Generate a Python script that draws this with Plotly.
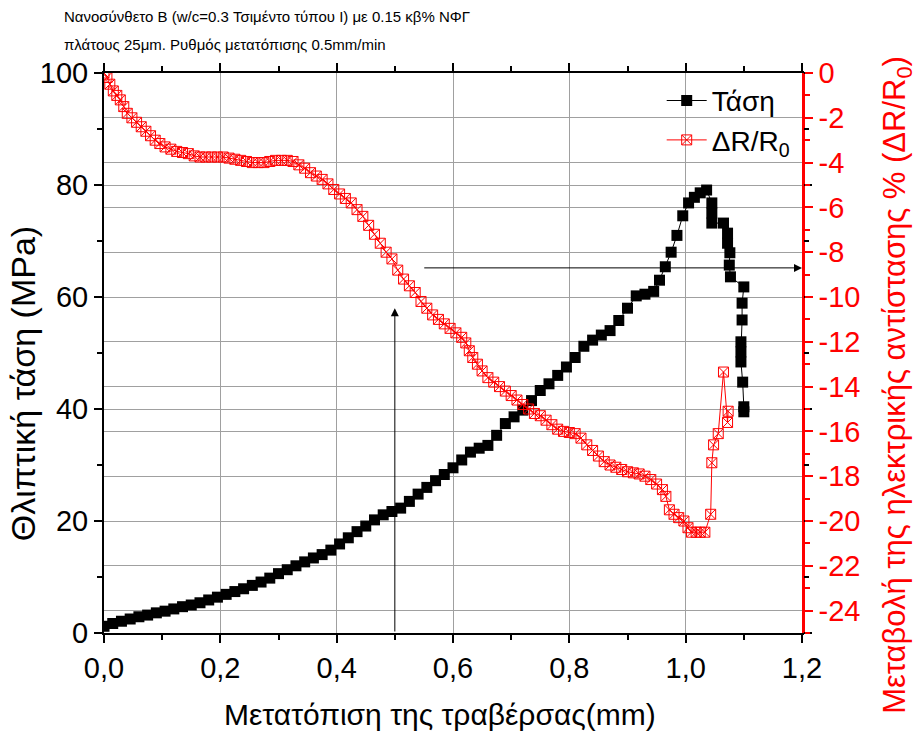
import plotly.graph_objects as go

# ---- data: stress (MPa) vs crosshead displacement (mm)
stress_x = [0.000, 0.015, 0.030, 0.045, 0.060, 0.075, 0.090, 0.105, 0.120, 0.135,
            0.150, 0.165, 0.180, 0.195, 0.210, 0.225, 0.240, 0.255, 0.270, 0.285,
            0.300, 0.315, 0.330, 0.345, 0.360, 0.375, 0.390, 0.405, 0.420, 0.435,
            0.450, 0.465, 0.480, 0.495, 0.510, 0.525, 0.540, 0.555, 0.570, 0.585,
            0.600, 0.615, 0.630, 0.645, 0.660, 0.675, 0.690, 0.705, 0.720, 0.735,
            0.750, 0.765, 0.780, 0.795, 0.810, 0.825, 0.840, 0.855, 0.870, 0.885,
            0.900, 0.915, 0.930, 0.945, 0.955, 0.965, 0.975, 0.985, 0.995, 1.005,
            1.015, 1.025, 1.036, 1.045, 1.045, 1.045, 1.065, 1.072, 1.072, 1.076,
            1.075, 1.077, 1.100, 1.097, 1.097, 1.095, 1.095, 1.095, 1.098, 1.100, 1.100]
stress_y = [1.2, 1.7, 2.1, 2.5, 2.9, 3.2, 3.6, 3.9, 4.3, 4.7,
            5.0, 5.4, 5.9, 6.4, 6.9, 7.4, 7.9, 8.5, 9.1, 9.8,
            10.6, 11.3, 12.0, 12.7, 13.4, 14.0, 14.8, 15.9, 17.0, 18.1,
            19.1, 20.2, 21.1, 21.7, 22.3, 23.5, 24.8, 26.0, 27.2, 28.3,
            29.5, 30.9, 32.3, 33.0, 33.5, 35.3, 37.4, 38.6, 39.8, 41.5,
            43.3, 44.5, 46.0, 47.5, 49.2, 51.2, 52.3, 53.2, 54.0, 55.8,
            58.0, 60.2, 60.5, 61.0, 63.0, 65.4, 68.0, 71.0, 74.5, 76.8,
            77.8, 78.6, 79.1, 76.8, 75.0, 73.2, 73.2, 71.4, 69.6, 67.9,
            65.7, 63.6, 61.8, 58.9, 55.9, 52.0, 50.2, 48.4, 44.8, 40.4, 39.5]

# ---- data: resistance change ΔR/R0 (%) vs displacement (mm)
dr_x = [0.000, 0.005, 0.010, 0.016, 0.022, 0.028, 0.034, 0.040, 0.048, 0.056,
        0.064, 0.072, 0.080, 0.088, 0.096, 0.105, 0.115, 0.125, 0.135, 0.145,
        0.155, 0.165, 0.175, 0.185, 0.195, 0.205, 0.215, 0.225, 0.235, 0.245,
        0.255, 0.265, 0.275, 0.285, 0.295, 0.305, 0.315, 0.325, 0.335, 0.345,
        0.355, 0.365, 0.375, 0.385, 0.395, 0.405, 0.415, 0.425, 0.435, 0.445,
        0.455, 0.465, 0.475, 0.485, 0.495, 0.505, 0.515, 0.525, 0.535, 0.545,
        0.555, 0.565, 0.575, 0.585, 0.595, 0.605, 0.615, 0.622, 0.628, 0.634,
        0.642, 0.650, 0.660, 0.670, 0.680, 0.690, 0.700, 0.710, 0.720, 0.730,
        0.740, 0.750, 0.760, 0.770, 0.780, 0.790, 0.800, 0.810, 0.820, 0.830,
        0.840, 0.850, 0.860, 0.870, 0.880, 0.890, 0.900, 0.910, 0.920, 0.930,
        0.940, 0.950, 0.960, 0.966, 0.972, 0.980, 0.988, 0.997, 1.004, 1.010,
        1.018, 1.025, 1.033, 1.043, 1.045, 1.048, 1.056, 1.065, 1.072, 1.073]
dr_y = [0.0, -0.2, -0.5, -0.8, -1.0, -1.2, -1.5, -1.8, -2.0, -2.2,
        -2.4, -2.6, -2.8, -3.0, -3.15, -3.3, -3.4, -3.5, -3.55, -3.6,
        -3.7, -3.75, -3.75, -3.75, -3.75, -3.75, -3.8, -3.85, -3.9, -3.95,
        -4.0, -4.0, -4.0, -3.95, -3.9, -3.9, -3.9, -3.95, -4.1, -4.25,
        -4.45, -4.6, -4.75, -4.95, -5.2, -5.4, -5.6, -5.8, -6.1, -6.4,
        -6.8, -7.2, -7.6, -8.0, -8.3, -8.8, -9.2, -9.5, -9.8, -10.2,
        -10.5, -10.8, -11.0, -11.2, -11.4, -11.6, -11.8, -12.05, -12.4, -12.7,
        -13.0, -13.3, -13.6, -13.8, -14.0, -14.2, -14.4, -14.6, -14.8, -15.0,
        -15.2, -15.3, -15.5, -15.7, -15.9, -16.0, -16.05, -16.1, -16.3, -16.6,
        -16.85, -17.1, -17.35, -17.5, -17.6, -17.7, -17.8, -17.85, -17.9, -18.0,
        -18.15, -18.35, -18.6, -18.9, -19.5, -19.7, -19.85, -20.0, -20.3, -20.5,
        -20.5, -20.5, -20.5, -19.7, -17.4, -16.6, -16.1, -13.35, -15.6, -15.1]

x_ticks = [0.0, 0.2, 0.4, 0.6, 0.8, 1.0, 1.2]
x_ticktext = ["0,0", "0,2", "0,4", "0,6", "0,8", "1,0", "1,2"]
y_ticks = [0, 20, 40, 60, 80, 100]
y2_ticks = [0, -2, -4, -6, -8, -10, -12, -14, -16, -18, -20, -22, -24]
y2_ticktext = ["0", "-2", "-4", "-6", "-8", "-10", "-12", "-14", "-16", "-18", "-20", "-22", "-24"]

title_lines = ["Νανοσύνθετο B (w/c=0.3 Τσιμέντο τύπου I) με 0.15 κβ% ΝΦΓ",
               "πλάτους 25μm. Ρυθμός μετατόπισης 0.5mm/min"]
x_title = "Μετατόπιση της τραβέρσας(mm)"
y_title = "Θλιπτική τάση (MPa)"
y2_title = "Μεταβολή της ηλεκτρικής αντίστασης % (ΔR/R<sub>0</sub>)"
names = ["Τάση", "ΔR/R<sub>0</sub>"]

FONT = "Liberation Sans, Arial, sans-serif"
TF = 29
AF = 30
GRID = "#a0a0a0"

fig = go.Figure()
fig.add_trace(go.Scatter(
    x=stress_x, y=stress_y, name=names[0], mode="lines+markers",
    line=dict(color="black", width=1),
    marker=dict(symbol="square", size=11, color="black"),
    yaxis="y"))
fig.add_trace(go.Scatter(
    x=dr_x, y=dr_y, name=names[1], mode="lines+markers",
    line=dict(color="red", width=1),
    marker=dict(symbol="square-x-open", size=10, color="red", line=dict(width=1, color="red")),
    yaxis="y2"))

# arrows
fig.add_annotation(x=0.5, y=58, ax=0.5, ay=0, xref="x", yref="y", axref="x", ayref="y",
                   text="", showarrow=True, arrowhead=2, arrowsize=1.6, arrowwidth=1,
                   arrowcolor="black")
fig.add_annotation(x=1.2, y=65.2, ax=0.548, ay=65.2, xref="x", yref="y", axref="x", ayref="y",
                   text="", showarrow=True, arrowhead=2, arrowsize=1.6, arrowwidth=1,
                   arrowcolor="black")

# title lines
for i, t in enumerate(title_lines):
    fig.add_annotation(text=t, xref="paper", yref="paper", x=-0.06, y=1.1 - i * 0.05,
                       xanchor="left", yanchor="middle", showarrow=False,
                       font=dict(family=FONT, size=15, color="black"))

# axis titles
fig.add_annotation(text=x_title, xref="paper", yref="paper", x=0.481, y=-0.146,
                   xanchor="center", yanchor="middle", showarrow=False,
                   font=dict(family=FONT, size=AF, color="black"))
fig.add_annotation(text=y_title, xref="paper", yref="paper", x=-0.117, y=0.445,
                   xanchor="center", yanchor="middle", showarrow=False, textangle=-90,
                   font=dict(family=FONT, size=34, color="black"))
fig.add_annotation(text=y2_title, xref="paper", yref="paper", x=1.136, y=0.443,
                   xanchor="center", yanchor="middle", showarrow=False, textangle=-90,
                   font=dict(family=FONT, size=31, color="red"))

fig.update_layout(
    width=917, height=735, autosize=False,
    margin=dict(l=104, r=115, t=73, b=102),
    paper_bgcolor="white", plot_bgcolor="white",
    font=dict(family=FONT, size=TF, color="black"),
    showlegend=True,
    legend=dict(x=0.799, y=0.995, xanchor="left", yanchor="top", bgcolor="rgba(0,0,0,0)",
                font=dict(family=FONT, size=28), tracegroupgap=0, itemwidth=40),
    xaxis=dict(range=[0, 1.2], tickvals=x_ticks, ticktext=x_ticktext, automargin=False,
               showline=True, linecolor="black", linewidth=2, mirror="ticks",
               ticks="outside", ticklen=8, tickwidth=1.5, tickcolor="black",
               minor=dict(dtick=0.1, ticks="outside", ticklen=5, tickcolor="black", showgrid=False),
               showgrid=True, gridcolor=GRID, gridwidth=1, zeroline=False,
               tickfont=dict(size=TF)),
    yaxis=dict(range=[0, 100], tickvals=y_ticks, automargin=False,
               showline=True, linecolor="black", linewidth=2, mirror="ticks",
               ticks="outside", ticklen=8, tickwidth=1.5, tickcolor="black",
               minor=dict(dtick=10, ticks="outside", ticklen=5, tickcolor="black", showgrid=False),
               showgrid=True, gridcolor=GRID, gridwidth=1, zeroline=False,
               tickfont=dict(size=TF)),
    yaxis2=dict(range=[-25, 0], tickvals=y2_ticks, ticktext=y2_ticktext, overlaying="y", side="right",
                automargin=False,
                showline=True, linecolor="red", linewidth=2.5,
                ticks="outside", ticklen=8, tickwidth=1.5, tickcolor="red",
                minor=dict(dtick=1, ticks="outside", ticklen=5, tickcolor="red", showgrid=False),
                showgrid=True, gridcolor=GRID, gridwidth=1, zeroline=False,
                tickfont=dict(size=TF, color="red")),
)

fig.write_html("out.html")
